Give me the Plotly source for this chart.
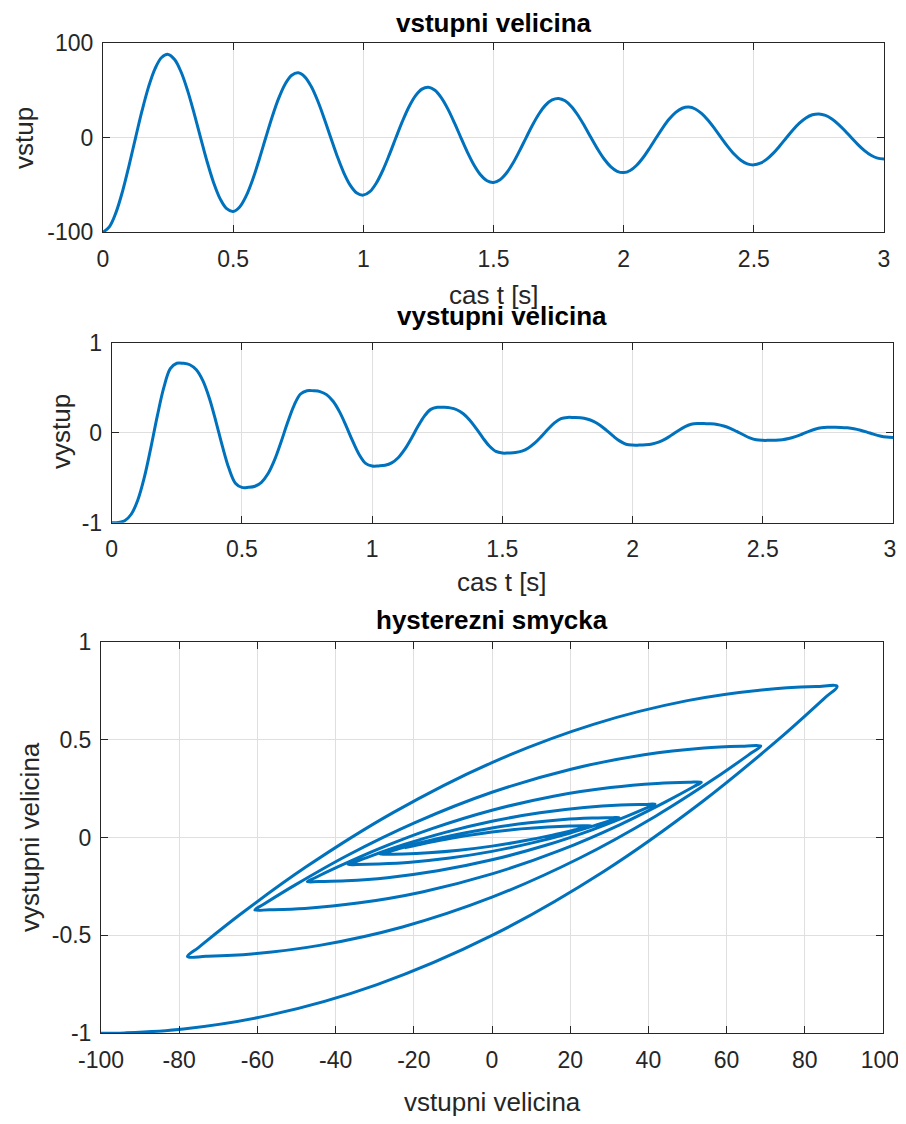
import numpy as np
import plotly.graph_objects as go

# time samples [s]
t = np.linspace(0.0, 3.0, 121)

# input signal (vstupni velicina)
vstup = [
    -100.0, -93.92, -78.90, -56.62, -29.39, 0.0, 28.67, 53.85, 73.20, 84.99,
    88.25, 82.89, 69.63, 49.96, 25.94, 0.0, -25.30, -47.53, -64.60, -75.00,
    -77.88, -73.14, -61.45, -44.10, -22.89, 0.0, 22.33, 41.94, 57.01, 66.19,
    68.73, 64.55, 54.23, 38.91, 20.20, 0.0, -19.70, -37.02, -50.31, -58.41,
    -60.65, -56.97, -47.86, -34.34, -17.83, 0.0, 17.39, 32.66, 44.40, 51.55,
    53.53, 50.28, 42.23, 30.30, 15.73, 0.0, -15.35, -28.83, -39.18, -45.49,
    -47.24, -44.36, -37.27, -26.75, -13.88, 0.0, 13.54, 25.44, 34.58, 40.15,
    41.69, 39.15, 32.89, 23.60, 12.25, 0.0, -11.95, -22.45, -30.51, -35.43,
    -36.79, -34.55, -29.03, -20.83, -10.81, 0.0, 10.55, 19.81, 26.93, 31.27,
    32.47, 30.49, 25.62, 18.38, 9.54, 0.0, -9.31, -17.49, -23.77, -27.59,
    -28.65, -26.91, -22.61, -16.22, -8.42, 0.0, 8.21, 15.43, 20.97, 24.35,
    25.28, 23.75, 19.95, 14.31, 7.43, 0.0, -7.25, -13.62, -18.51, -21.49,
    -22.31,
]

# output signal (vystupni velicina)
vystup = [
    -1.000, -0.998, -0.978, -0.906, -0.751, -0.500, -0.172, 0.184, 0.500, 0.711,
    0.772, 0.771, 0.755, 0.699, 0.578, 0.383, 0.127, -0.150, -0.396, -0.561,
    -0.608, -0.607, -0.595, -0.551, -0.457, -0.305, -0.106, 0.110, 0.302, 0.430,
    0.467, 0.466, 0.457, 0.423, 0.349, 0.231, 0.076, -0.092, -0.242, -0.341,
    -0.370, -0.369, -0.362, -0.335, -0.278, -0.186, -0.066, 0.065, 0.182, 0.259,
    0.282, 0.282, 0.276, 0.255, 0.211, 0.139, 0.045, -0.057, -0.148, -0.208,
    -0.226, -0.225, -0.221, -0.205, -0.170, -0.114, -0.041, 0.038, 0.109, 0.156,
    0.170, 0.169, 0.166, 0.153, 0.126, 0.083, 0.026, -0.036, -0.091, -0.128,
    -0.138, -0.138, -0.135, -0.126, -0.105, -0.071, -0.026, 0.022, 0.065, 0.093,
    0.102, 0.101, 0.099, 0.092, 0.075, 0.049, 0.014, -0.023, -0.057, -0.079,
    -0.085, -0.085, -0.084, -0.078, -0.065, -0.044, -0.017, 0.012, 0.038, 0.055,
    0.060, 0.060, 0.059, 0.054, 0.044, 0.028, 0.007, -0.016, -0.036, -0.049,
    -0.053,
]

# tick values / labels
NB = "\u00a0"  # keeps the right-most labels inside the visible page
t_ticks = [0, 0.5, 1, 1.5, 2, 2.5, 3]
t_labels = ["0", "0.5", "1", "1.5", "2", "2.5", "3"]
t_labels2 = ["0", "0.5", "1", "1.5", "2", "2.5", "3" + NB]
vstup_ticks = [-100, 0, 100]
vstup_labels = ["-100", "0", "100"]
vystup_ticks = [-1, 0, 1]
vystup_labels = ["-1", "0", "1"]
loop_x_ticks = [-100, -80, -60, -40, -20, 0, 20, 40, 60, 80, 100]
loop_x_labels = ["-100", "-80", "-60", "-40", "-20", "0", "20", "40", "60", "80", "100" + NB]
loop_y_ticks = [-1, -0.5, 0, 0.5, 1]
loop_y_labels = ["-1", "-0.5", "0", "0.5", "1"]

# the page body has an 8px margin: the figure sits at (8, 8) in the window
OFF = 8
W, H = 896, 1108
BLUE = "#0072BD"
AXC = "#262626"
FONT = "Liberation Sans, Arial, Helvetica, sans-serif"
TICKSZ = 23
LABSZ = 26
TITSZ = 26


def px_x(p):
    return (p - OFF) / W


def px_y(p):
    return 1 - (p - OFF) / H


fig = go.Figure()
fig.add_trace(go.Scatter(x=t, y=vstup, mode="lines", xaxis="x", yaxis="y",
                         line=dict(color=BLUE, width=3, shape="spline", smoothing=1)))
fig.add_trace(go.Scatter(x=t, y=vystup, mode="lines", xaxis="x2", yaxis="y2",
                         line=dict(color=BLUE, width=3, shape="spline", smoothing=1)))
fig.add_trace(go.Scatter(x=vstup, y=vystup, mode="lines", xaxis="x3", yaxis="y3",
                         line=dict(color=BLUE, width=3, shape="spline", smoothing=1)))


def axis(domain, rng, tv, tt, anchor, standoff):
    return dict(domain=domain, range=rng, tickvals=tv, ticktext=tt, anchor=anchor,
                automargin=False, ticklabelstandoff=standoff, ticklabeloverflow="allow",
                showline=True, linecolor=AXC, linewidth=1, mirror="ticks",
                ticks="inside", ticklen=7, tickcolor=AXC, tickwidth=1,
                showgrid=True, gridcolor="#dfdfdf", gridwidth=1, zeroline=False,
                tickfont=dict(family=FONT, size=TICKSZ, color=AXC), fixedrange=True)


# pixel boxes (window coordinates) of the three axes (left, right, top, bottom)
boxes = [(103, 884, 43.3, 232.3), (111.7, 893, 342.7, 522.7), (101, 883, 641.7, 1033.3)]
dx = [[px_x(b[0]), px_x(b[1])] for b in boxes]
dy = [[px_y(b[3]), px_y(b[2])] for b in boxes]
XS, YS = 6, 4

layout = dict(
    template="none",
    width=W, height=H, margin=dict(l=0, r=0, t=0, b=0, pad=0, autoexpand=False),
    paper_bgcolor="white", plot_bgcolor="white", showlegend=False,
    xaxis=axis(dx[0], [0, 3], t_ticks, t_labels, "y", XS),
    yaxis=axis(dy[0], [-100, 100], vstup_ticks, vstup_labels, "x", YS),
    xaxis2=axis(dx[1], [0, 3], t_ticks, t_labels2, "y2", XS),
    yaxis2=axis(dy[1], [-1, 1], vystup_ticks, vystup_labels, "x2", YS),
    xaxis3=axis(dx[2], [-100, 100], loop_x_ticks, loop_x_labels, "y3", XS),
    yaxis3=axis(dy[2], [-1, 1], loop_y_ticks, loop_y_labels, "x3", YS),
)

texts = [
    # text, x px, y px (window coordinates), size, bold, angle
    ("vstupni velicina", 493.5, 23, TITSZ, True, 0),
    ("cas t [s]", 493.5, 295, LABSZ, False, 0),
    ("vstup", 24, 138, LABSZ, False, -90),
    ("vystupni velicina", 502.3, 316, TITSZ, True, 0),
    ("cas t [s]", 502.3, 582, LABSZ, False, 0),
    ("vystup", 61, 432, LABSZ, False, -90),
    ("hysterezni smycka", 492, 620, TITSZ, True, 0),
    ("vstupni velicina", 492, 1102, LABSZ, False, 0),
    ("vystupni velicina", 30, 837, LABSZ, False, -90),
]
annotations = []
for txt, xp, yp, sz, bold, ang in texts:
    annotations.append(dict(
        text="<b>%s</b>" % txt if bold else txt,
        x=px_x(xp), y=px_y(yp), xref="paper", yref="paper",
        xanchor="center", yanchor="middle", showarrow=False, textangle=ang,
        font=dict(family=FONT, size=sz, color="black" if bold else AXC)))
layout["annotations"] = annotations

fig.update_layout(**layout)
fig.write_html("out.html")
